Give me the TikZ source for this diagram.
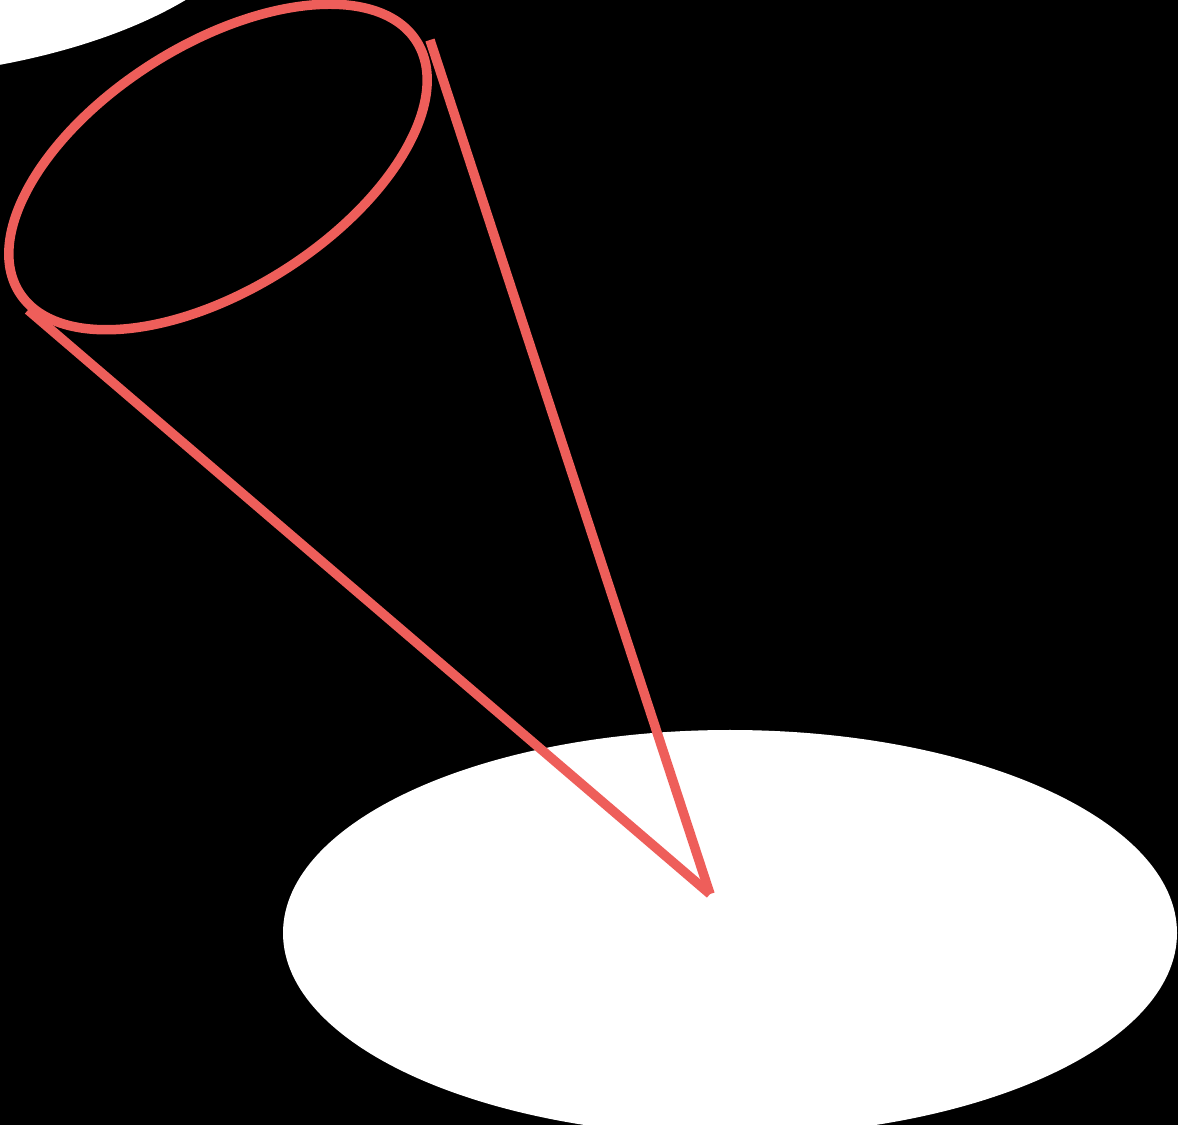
\documentclass[tikz,border=0pt]{standalone}
\definecolor{conered}{RGB}{238,94,90}
\begin{document}
\begin{tikzpicture}[x=1pt,y=1pt,
  conestroke/.style={draw=conered,line width=9.5pt}]
\useasboundingbox (0,0) rectangle (1178,1125);
\fill[black] (0,0) rectangle (1178,1125);
\begin{scope}
\clip (0,0) rectangle (1178,1125);
\fill[white] (-170,1248) ellipse [x radius=447, y radius=203];
\fill[white] (730,192) ellipse [x radius=447, y radius=203];
\draw[conestroke,rotate around={32.3:(218,958)}] (218,958) ellipse [x radius=235, y radius=122.5];
\coordinate (apex) at (710,231);
\coordinate (rimR) at (430,1085);
\coordinate (rimL) at (28,815);
\draw[conestroke] (rimR) -- (apex);
\draw[conestroke] (rimL) -- (apex);
\end{scope}
\end{tikzpicture}
\end{document}
